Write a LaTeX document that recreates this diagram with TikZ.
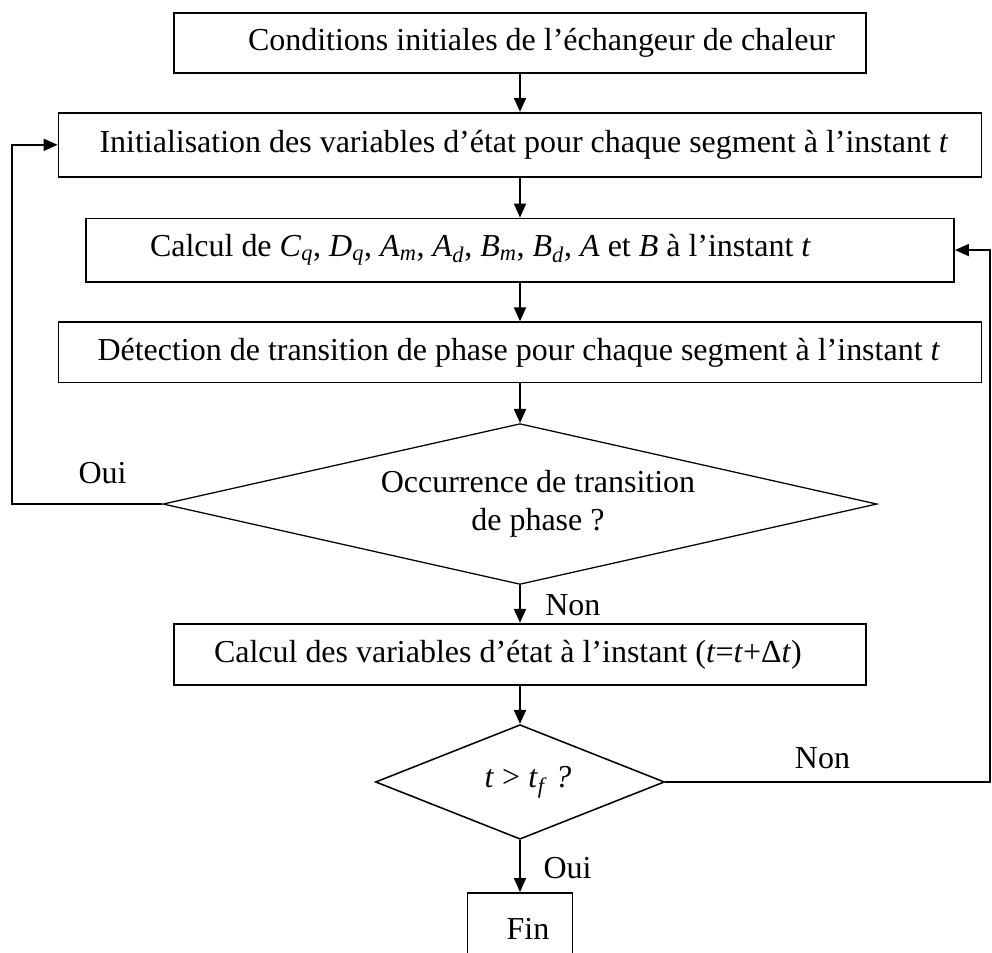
\documentclass[tikz,border=0pt]{standalone}
\usepackage{fontspec}
\setmainfont{Liberation Serif}
\usepackage{tikz}
\usetikzlibrary{shapes.geometric, arrows.meta, positioning}

\newcommand{\coef}[2]{\textit{#1}\textsubscript{\textit{#2}}}

\begin{document}
\begin{tikzpicture}[
    >=Stealth,
    node distance=1cm,
    txt/.style={font=\fontsize{22.75}{27.3}\selectfont},
    etape/.style={draw, line width=1.3pt, txt, inner xsep=0pt, inner ysep=0pt, align=flush left},
    test/.style={diamond, draw, txt, inner sep=0pt, align=center},
    arr/.style={-{Triangle[length=0.35cm, width=0.3cm]}, line width=1.3pt},
    lbl/.style={txt, inner sep=0pt},
]
\useasboundingbox (0,0) rectangle (24.8,-23.825);

\node[etape, text width=17.3cm, minimum height=1.5cm] (cond) at (13,-1.075)
    {\hspace*{1.85cm}Conditions initiales de l’échangeur de chaleur};
\node[etape, text width=23.075cm, minimum height=1.6cm, below=0.95cm of cond] (init)
    {\hspace*{1.025cm}Initialisation des variables d’état pour chaque segment à l’instant \textit{t}};
\node[etape, text width=21.7cm, minimum height=1.58cm, below=0.995cm of init] (calc)
    {\hspace*{1.6cm}Calcul de \coef{C}{q}, \coef{D}{q}, \coef{A}{m}, \coef{A}{d}, \coef{B}{m}, \coef{B}{d}, \textit{A} et \textit{B} à l’instant \textit{t}};
\node[etape, text width=23.075cm, minimum height=1.505cm, below=0.97cm of calc] (detec)
    {\hspace*{0.975cm}Détection de transition de phase pour chaque segment à l’instant \textit{t}};

\node[test, line width=0.9pt, minimum width=17.85cm, minimum height=4.02cm, aspect=4.46,
      below=0.99cm of detec] (dec1)
    {\hspace*{0.9cm}Occurrence de transition\\\hspace*{0.9cm}de phase ?};

\node[etape, text width=17.3cm, minimum height=1.53cm, below=0.945cm of dec1] (maj)
    {\hspace*{1cm}Calcul des variables d’état à l’instant (\textit{t}=\textit{t}+Δ\textit{t})};

\node[test, line width=1.1pt, minimum width=7.225cm, minimum height=2.865cm, aspect=2.5,
      below=0.95cm of maj] (dec2) {\hspace*{0.4cm}\textit{t} > \coef{t}{f} \textit{?}};

\node[etape, text width=2.625cm, align=center, minimum height=1.8cm, below=1.3cm of dec2] (fin)
    {\hspace*{0.4cm}Fin};

\draw[arr] (cond) -- (init);
\draw[arr] (init) -- (calc);
\draw[arr] (calc) -- (detec);
\draw[arr] (detec) -- (dec1);
\draw[arr] (dec1) -- (maj);
\draw[arr] (maj) -- (dec2);
\draw[arr] (dec2) -- (fin);

% retours
\coordinate (gauche) at (0.3,-8);
\coordinate (droite) at (24.75,-12);
\draw[arr] (dec1.west) -| (gauche) |- (init.west);
\draw[arr] (dec2.east) -| (droite) |- (calc.east);

\node[lbl, anchor=base] (oui1) at (2.5625,-12.075) {Oui};
\node[lbl, anchor=base west] (non1) at (13.625,-15.375) {Non};
\node[lbl, anchor=base] (non2) at (20.5625,-19.2) {Non};
\node[lbl, anchor=base] (oui2) at (14.1875,-21.95) {Oui};
\end{tikzpicture}
\end{document}
